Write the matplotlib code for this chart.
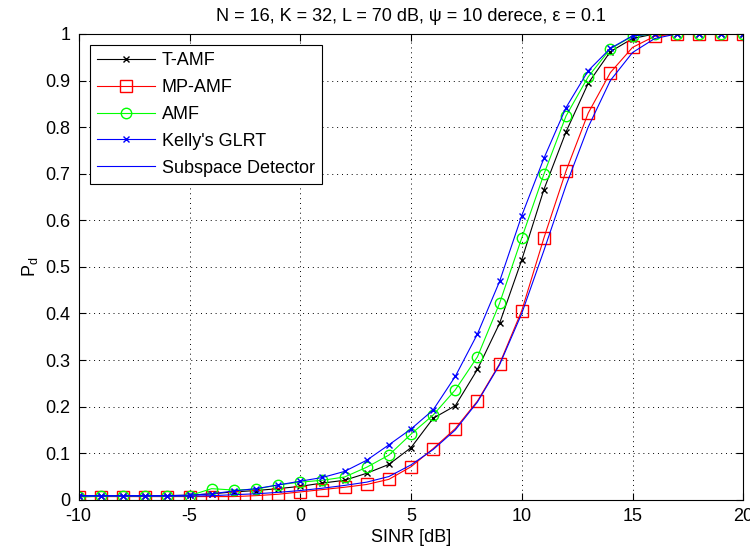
import numpy as np
import matplotlib
matplotlib.use('Agg')
import matplotlib.pyplot as plt

plt.rcParams['font.family'] = ['Liberation Sans', 'DejaVu Sans']
plt.rcParams['axes.unicode_minus'] = False

sinr = np.arange(-10, 21)

t_amf = [0.008, 0.008, 0.008, 0.008, 0.009, 0.010, 0.013, 0.017, 0.020, 0.024,
         0.029, 0.036, 0.042, 0.057, 0.076, 0.112, 0.175, 0.202, 0.280, 0.379,
         0.515, 0.666, 0.790, 0.894, 0.962, 0.990, 1.0, 1.0, 1.0, 1.0, 1.0]
mp_amf = [0.007, 0.007, 0.007, 0.007, 0.007, 0.007, 0.007, 0.007, 0.009, 0.012,
          0.017, 0.022, 0.027, 0.033, 0.044, 0.071, 0.110, 0.153, 0.212, 0.292,
          0.406, 0.562, 0.706, 0.830, 0.917, 0.971, 0.995, 1.0, 1.0, 1.0, 1.0]
amf = [0.006, 0.008, 0.008, 0.008, 0.008, 0.009, 0.024, 0.021, 0.023, 0.032,
       0.038, 0.042, 0.049, 0.070, 0.096, 0.141, 0.182, 0.236, 0.307, 0.422,
       0.562, 0.699, 0.824, 0.908, 0.968, 0.995, 1.0, 1.0, 1.0, 1.0, 1.0]
kelly = [0.009, 0.009, 0.009, 0.009, 0.009, 0.010, 0.013, 0.019, 0.024, 0.032,
         0.040, 0.048, 0.061, 0.085, 0.118, 0.152, 0.193, 0.265, 0.356, 0.469,
         0.610, 0.733, 0.842, 0.921, 0.969, 0.996, 1.0, 1.0, 1.0, 1.0, 1.0]
subspace = [0.008, 0.008, 0.008, 0.008, 0.008, 0.008, 0.009, 0.011, 0.013, 0.016,
            0.020, 0.025, 0.031, 0.038, 0.050, 0.075, 0.108, 0.150, 0.210, 0.290,
            0.400, 0.535, 0.675, 0.800, 0.900, 0.960, 0.990, 1.0, 1.0, 1.0, 1.0]

fs = 13

fig = plt.figure(figsize=(7.5, 5.56), dpi=100)
ax = fig.add_axes([0.105, 0.101, 0.886, 0.838])

ax.plot(sinr, t_amf, color='k', marker='x', markersize=4.5, lw=0.8, label='T-AMF')
ax.plot(sinr, mp_amf, color='r', marker='s', markersize=8, mfc='none', lw=0.8, label='MP-AMF')
ax.plot(sinr, amf, color='#00ff00', marker='o', markersize=7.5, mfc='none', lw=0.8, label='AMF')
ax.plot(sinr, kelly, color='b', marker='x', markersize=4.5, lw=0.8, label="Kelly's GLRT")
ax.plot(sinr, subspace, color='b', lw=0.8, label='Subspace Detector')

ax.set_xlim(-10, 20)
ax.set_ylim(0, 1)
ax.set_xticks(np.arange(-10, 21, 5))
ax.set_yticks(np.arange(0, 1.01, 0.1))
ax.set_yticklabels(['0', '0.1', '0.2', '0.3', '0.4', '0.5', '0.6', '0.7', '0.8', '0.9', '1'])
ax.tick_params(direction='in', top=True, right=True, labelsize=fs, length=5, pad=6)
ax.grid(True, linestyle=(0, (1, 4)), color='k', lw=0.7)

ax.set_xlabel('SINR [dB]', fontsize=fs, labelpad=3)
ax.set_ylabel('P$_\\mathregular{d}$', fontsize=fs, labelpad=4)
ax.set_title('N = 16, K = 32, L = 70 dB, \u03c8 = 10 derece, \u03b5 = 0.1', fontsize=fs, pad=9)

leg = ax.legend(loc='upper left', fontsize=fs, fancybox=False, edgecolor='k',
                framealpha=1, borderaxespad=0.6, handlelength=3.2,
                labelspacing=0.55, handletextpad=0.4)
leg.get_frame().set_linewidth(0.8)

fig.savefig('out.png', dpi=100)
